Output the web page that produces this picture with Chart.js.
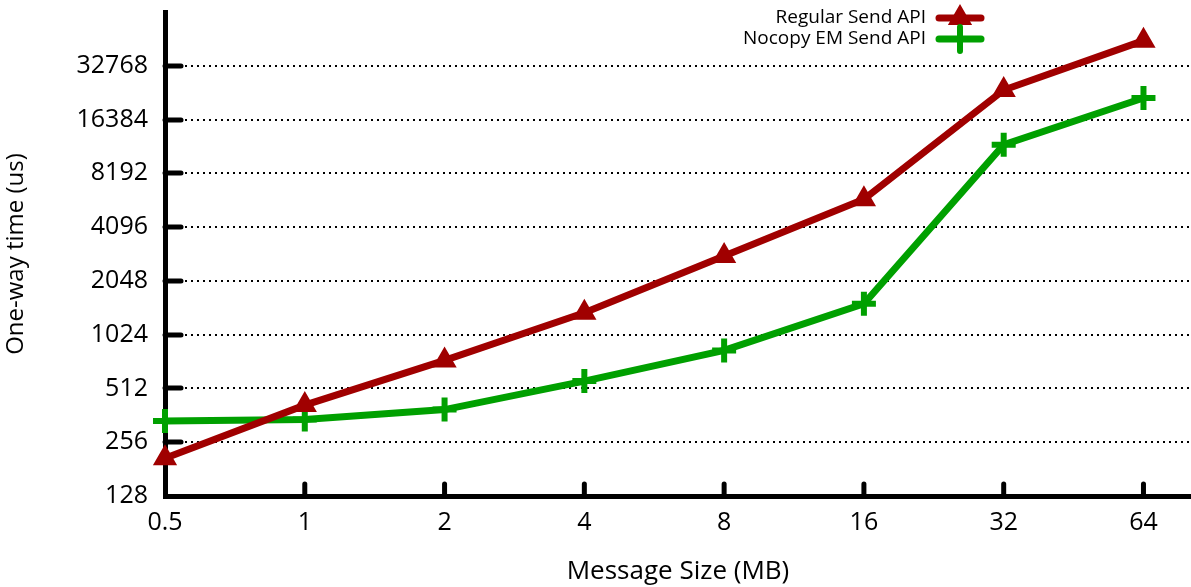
<!DOCTYPE html>
<html>
<head>
<meta charset="utf-8">
<script src="https://cdn.jsdelivr.net/npm/chart.js@4/dist/chart.umd.min.js"></script>
<style>
  html, body { margin: 0; padding: 0; background: #fff; }
  canvas { display: block; }
</style>
</head>
<body>
<canvas id="c" width="1191" height="587"></canvas>
<script>
// Message sizes in MB (x categories) and one-way latency in microseconds
const sizes = ['0.5', '1', '2', '4', '8', '16', '32', '64'];
const regularSend = [208, 413, 735, 1358, 2825, 5873, 23970, 45300];
const nocopySend = [336, 343, 390, 563, 836, 1526, 11840, 21630];
const yTicks = [128, 256, 512, 1024, 2048, 4096, 8192, 16384, 32768];

const FONT = '"Open Sans", Lato, sans-serif';
const RED = '#a00000';
const GREEN = '#00a000';

function noPadding(s) {
  s.paddingLeft = 0; s.paddingRight = 0; s.paddingTop = 0; s.paddingBottom = 0;
}

// inward tick marks, dotted horizontal grid and the key in the upper right
const decorations = {
  id: 'decorations',
  beforeDatasetsDraw(chart) {
    const ctx = chart.ctx;
    const area = chart.chartArea;
    const x = chart.scales.x, y = chart.scales.y;
    ctx.save();
    ctx.strokeStyle = '#000';
    // dotted grid lines
    ctx.lineWidth = 2;
    ctx.setLineDash([2, 4]);
    yTicks.forEach(v => {
      if (v === 128) return;
      const py = Math.round(y.getPixelForValue(v));
      ctx.beginPath();
      ctx.moveTo(area.left + 20, py);
      ctx.lineTo(chart.width, py);
      ctx.stroke();
    });
    ctx.setLineDash([]);
    // tick marks pointing into the plot
    ctx.lineWidth = 5;
    ctx.lineCap = 'round';
    yTicks.forEach(v => {
      if (v === 128) return;
      const py = Math.round(y.getPixelForValue(v));
      ctx.beginPath();
      ctx.moveTo(area.left, py);
      ctx.lineTo(area.left + 16, py);
      ctx.stroke();
    });
    sizes.forEach((s, i) => {
      if (i === 0) return;
      const px = x.getPixelForValue(i);
      ctx.beginPath();
      ctx.moveTo(px, area.bottom);
      ctx.lineTo(px, area.bottom - 12);
      ctx.stroke();
    });
    ctx.restore();
  },
  afterDraw(chart) {
    const ctx = chart.ctx;
    ctx.save();
    ctx.font = '19px ' + FONT;
    ctx.textAlign = 'right';
    ctx.textBaseline = 'middle';
    chart.data.datasets.forEach((ds, i) => {
      const ly = 18 + i * 21;
      ctx.fillStyle = '#000';
      ctx.fillText(ds.label, 926, ly);
      ctx.strokeStyle = ds.borderColor;
      ctx.lineWidth = ds.borderWidth;
      ctx.lineCap = 'round';
      ctx.beginPath();
      ctx.moveTo(939, ly);
      ctx.lineTo(981, ly);
      ctx.stroke();
      ctx.fillStyle = ds.pointBackgroundColor;
      ctx.lineWidth = ds.pointBorderWidth;
      Chart.helpers.drawPoint(ctx, {
        pointStyle: ds.pointStyle,
        radius: ds.pointRadius,
        borderWidth: ds.pointBorderWidth,
        rotation: 0
      }, 960, ly);
    });
    ctx.restore();
  }
};

new Chart(document.getElementById('c'), {
  type: 'line',
  data: {
    datasets: [
      {
        label: 'Regular Send API',
        data: regularSend.map((v, i) => ({ x: i, y: v })),
        borderColor: RED,
        backgroundColor: RED,
        borderWidth: 7,
        pointStyle: 'triangle',
        pointRadius: 10,
        pointBorderWidth: 4,
        pointBackgroundColor: RED,
        pointBorderColor: RED,
        clip: false
      },
      {
        label: 'Nocopy EM Send API',
        data: nocopySend.map((v, i) => ({ x: i, y: v })),
        borderColor: GREEN,
        backgroundColor: GREEN,
        borderWidth: 7,
        pointStyle: 'cross',
        pointRadius: 12,
        pointBorderWidth: 6,
        pointBackgroundColor: GREEN,
        pointBorderColor: GREEN,
        clip: false
      }
    ]
  },
  options: {
    responsive: false,
    devicePixelRatio: 1,
    animation: false,
    events: [],
    layout: { autoPadding: false, padding: { top: 12, right: 0, left: 0, bottom: 0 } },
    plugins: { legend: { display: false }, tooltip: { enabled: false } },
    scales: {
      x: {
        type: 'linear',
        min: 0,
        max: 7.34,
        afterFit(s) { s.height = 91; noPadding(s); },
        afterBuildTicks(s) { s.ticks = sizes.map((_, i) => ({ value: i })); },
        grid: { display: false, drawTicks: false, tickLength: 0 },
        border: { display: true, color: '#000', width: 5 },
        ticks: {
          color: '#000',
          font: { family: FONT, size: 25 },
          padding: 12,
          maxRotation: 0,
          autoSkip: false,
          callback: v => sizes[v]
        },
        title: {
          display: true,
          text: 'Message Size (MB)',
          color: '#000',
          font: { family: FONT, size: 26 },
          padding: { top: 0, bottom: 0 }
        }
      },
      y: {
        type: 'logarithmic',
        min: 128,
        max: 65536,
        afterFit(s) { s.width = 165; noPadding(s); },
        afterBuildTicks(s) { s.ticks = yTicks.map(v => ({ value: v })); },
        grid: { display: false, drawTicks: false, tickLength: 0 },
        border: { display: true, color: '#000', width: 5 },
        ticks: {
          color: '#000',
          font: { family: FONT, size: 25 },
          padding: 17,
          autoSkip: false,
          callback: v => String(v)
        },
        title: {
          display: true,
          text: 'One-way time (us)',
          color: '#000',
          font: { family: FONT, size: 24 },
          padding: { top: 2, bottom: 0 }
        }
      }
    }
  },
  plugins: [decorations]
});
</script>
</body>
</html>
